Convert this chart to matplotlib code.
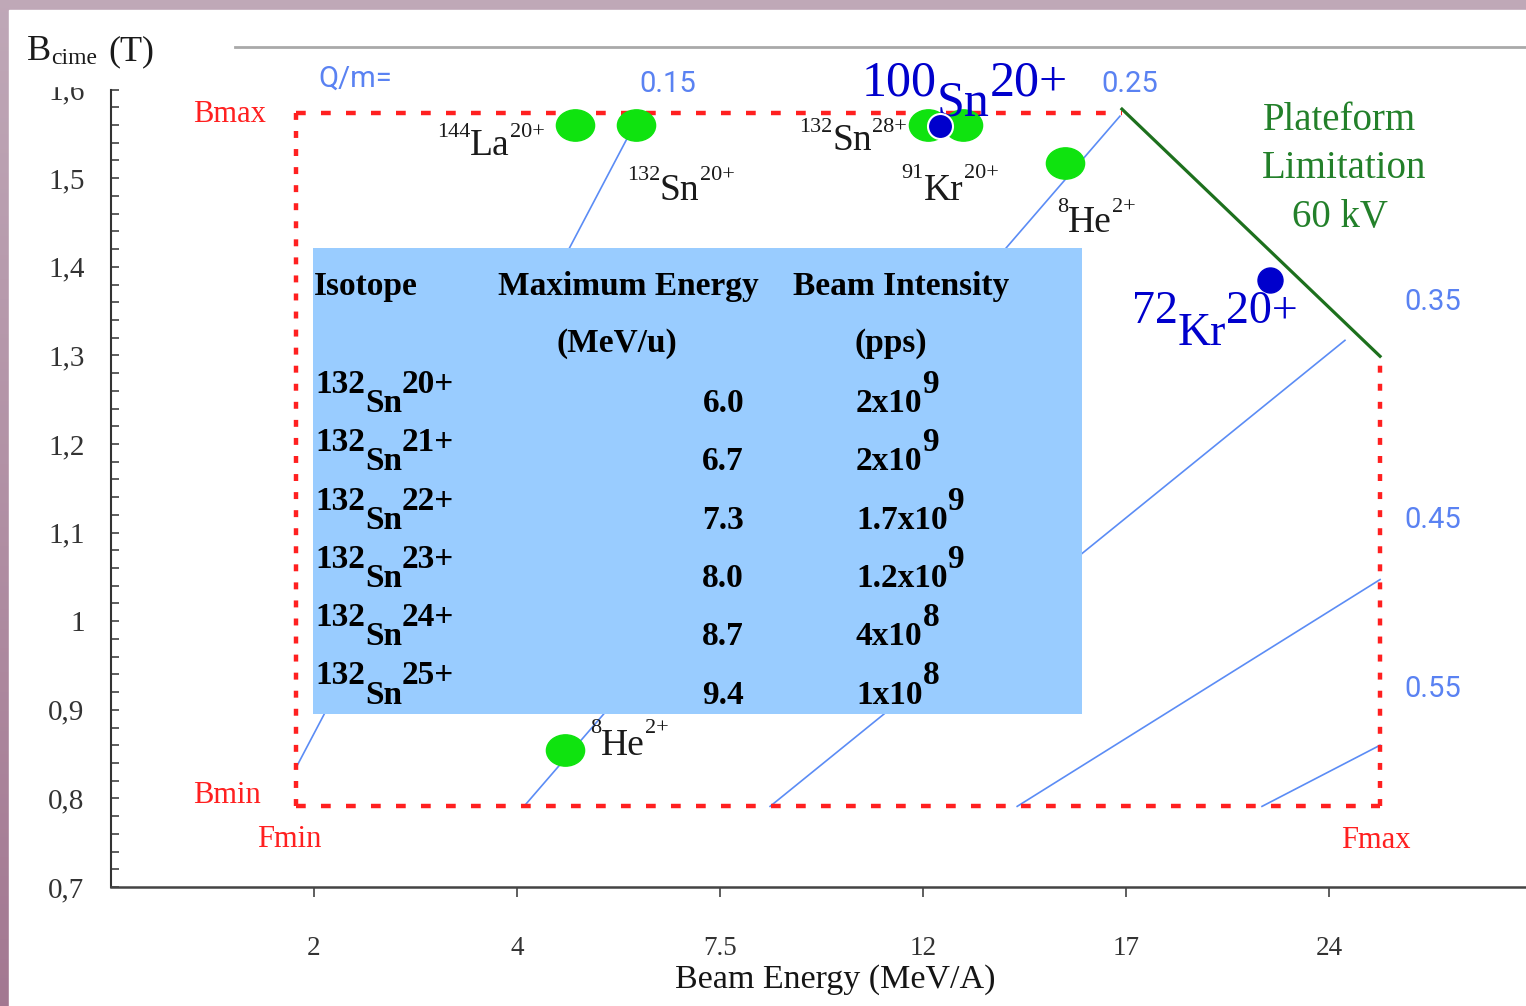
import numpy as np
import matplotlib
matplotlib.use('Agg')
import matplotlib.pyplot as plt
from matplotlib.patches import Rectangle
from matplotlib.path import Path

plt.rcParams['font.family'] = ['Liberation Serif', 'DejaVu Serif']
plt.rcParams['lines.scale_dashes'] = False

W, H = 1526, 1006

# x axis of the slide: tick energies are evenly spaced
tick_E = [2, 4, 7.5, 12, 17, 24]
tick_lab = ['2', '4', '7.5', '12', '17', '24']
knot_E = [0, 2, 4, 7.5, 12, 17, 24, 31]
knot_u = [0, 1, 2, 3, 4, 5, 6, 7]

y_ticks = [0.7, 0.8, 0.9, 1.0, 1.1, 1.2, 1.3, 1.4, 1.5, 1.6]
y_lab = ['0,7', '0,8', '0,9', '1', '1,1', '1,2', '1,3', '1,4', '1,5', '1,6']

# acceptance window
F_min, F_max = 1.82, 25.76
B_min, B_max = 0.791, 1.574

# platform limitation 60 kV
plat_E = [16.9, 25.76]
plat_B = [1.578, 1.299]

# Q/m lines
qm_lab = ['0.15', '0.25', '0.35', '0.45', '0.55']
qm_E0 = [1.82, 4.12, 8.61, 14.32, 21.69]
qm_B0 = [0.834, 0.791, 0.791, 0.791, 0.791]
qm_E1 = [6.02, 16.85, 24.55, 25.76, 25.76]
qm_B1 = [1.560, 1.570, 1.317, 1.047, 0.860]

# beams
green_E = [5.0, 6.05, 12.12, 12.99, 15.5, 4.83]
green_B = [1.560, 1.560, 1.560, 1.560, 1.517, 0.855]
blue_E = [12.42, 21.97]
blue_B = [1.559, 1.385]

# table
tab_charge = ['20+', '21+', '22+', '23+', '24+', '25+']
tab_energy = ['6.0', '6.7', '7.3', '8.0', '8.7', '9.4']
tab_int = ['2x10', '2x10', '1.7x10', '1.2x10', '4x10', '1x10']
tab_exp = ['9', '9', '9', '9', '8', '8']

fig = plt.figure(figsize=(W / 100, H / 100), dpi=100)

# slide background
bg = fig.add_axes([0, 0, 1, 1], zorder=-5)
g = np.linspace(0, 1, 256)[:, None, None]
c_top = np.array([0.75, 0.66, 0.72])
c_bot = np.array([0.64, 0.47, 0.57])
bg.imshow(c_top + (c_bot - c_top) * g, aspect='auto', extent=[0, 1, 0, 1])
bg.add_patch(Rectangle((9 / W, 0), 1, 1 - 10 / H, color='white'))
bg.set_xlim(0, 1)
bg.set_ylim(0, 1)
bg.set_axis_off()

ax = fig.add_axes([111 / W, 119 / H, (W - 111) / W, 797.4 / H])
ax.patch.set_alpha(0)


def fwd(e):
    return np.interp(e, knot_E, knot_u)


def inv(u):
    return np.interp(u, knot_u, knot_E)


ax.set_xscale('function', functions=(fwd, inv))


def ptext(x, y, s, **kw):
    kw.setdefault('zorder', 6)
    return ax.text(x / W, 1 - y / H, s, transform=fig.transFigure, **kw)


def chem(x, y, mass, sym, charge, size, small, rise, **kw):
    # x, y: left edge and baseline of the symbol in pixels
    t = ptext(x, y, sym, fontsize=size, ha='left', va='baseline', **kw)
    off = rise * 0.72 + 0.216 * (size - small)
    kw.setdefault('zorder', 6)
    ax.annotate(mass, xy=(0, 0), xycoords=t, xytext=(0, off),
                textcoords='offset points', ha='right', va='bottom',
                fontsize=small, **kw)
    ax.annotate(charge, xy=(1, 0), xycoords=t, xytext=(0, off),
                textcoords='offset points', ha='left', va='bottom',
                fontsize=small, **kw)
    return t


# Q/m lines
for e0, b0, e1, b1 in zip(qm_E0, qm_B0, qm_E1, qm_B1):
    ax.plot([e0, e1], [b0, b1], color='#5b8cf5', lw=1.2, zorder=2)

# acceptance window
red = '#ff2020'
kh = dict(color=red, lw=3.2, ls=(0, (7, 11)), dash_capstyle='butt', zorder=3)
kv = dict(color=red, lw=3.2, ls=(0, (5, 8)), dash_capstyle='butt', zorder=3)
ax.plot([F_min, plat_E[0]], [B_max, B_max], **kh)
ax.plot([F_min, F_max], [B_min, B_min], **kh)
ax.plot([F_min, F_min], [B_min, B_max], **kv)
ax.plot([F_max, F_max], [B_min, plat_B[1]], **kv)

ax.plot(plat_E, plat_B, color='#1d701d', lw=2.3, zorder=3)

circ = Path.unit_circle()
ell = Path(circ.vertices * [1, 0.82], circ.codes)
ax.plot(green_E, green_B, ls='none', marker=ell, ms=27.5, color='#0fe30f',
        mec='#0fe30f', zorder=4)
ax.plot(blue_E[:1], blue_B[:1], ls='none', marker='o', ms=18, mfc='#0000cc',
        mec='white', mew=1.5, zorder=8)
ax.plot(blue_E[1:], blue_B[1:], ls='none', marker='o', ms=18, mfc='#0000cc',
        mec='#0000cc', zorder=8)

# axes styling
ax.set_xlim(0, inv((W - 111) / 203))
ax.set_ylim(0.7, 1.6)
ax.set_xticks(tick_E, tick_lab)
ax.set_yticks(y_ticks, y_lab)
ax.set_yticks(np.arange(0.7, 1.6001, 0.02), minor=True)
ax.tick_params(axis='y', which='both', direction='in', length=5.8, width=1.1,
               color='#333333', pad=19, labelsize=21, labelcolor='#333333')
ax.tick_params(axis='x', direction='out', length=7, width=1.1, color='#333333',
               pad=28, labelsize=19.5, labelcolor='#333333')
ax.spines[['top', 'right']].set_visible(False)
ax.spines['left'].set_linewidth(1.5)
ax.spines['left'].set_color('#333333')
ax.spines['bottom'].set_linewidth(1.8)
ax.spines['bottom'].set_color('#444444')

# hide top of the "1,6" label like on the slide
ax.add_patch(Rectangle((30 / W, 1 - 86 / H), 75 / W, 20 / H, color='white',
                       transform=fig.transFigure, clip_on=False, zorder=20))
ax.plot([235 / W, 1], [1 - 46.5 / H] * 2, transform=fig.transFigure,
        color='#a9a9a9', lw=2, clip_on=False)

# axis titles
ptext(27, 60, 'B', fontsize=26, color='#1a1a1a')
ptext(51, 64, 'cime', fontsize=17, color='#1a1a1a')
ptext(108, 60, '(T)', fontsize=26, color='#1a1a1a')
ptext(835, 988, 'Beam Energy (MeV/A)', fontsize=24.5, ha='center',
      color='#151515')

# window labels
ptext(193, 122, 'Bmax', fontsize=22, color=red)
ptext(193, 803, 'Bmin', fontsize=22, color=red)
ptext(257, 847, 'Fmin', fontsize=22, color=red)
ptext(1341, 848, 'Fmax', fontsize=22, color=red)

# Q/m labels
qkw = dict(family='Roboto', fontsize=21, color='#5a82f2', ha='center')
ptext(318, 87, 'Q/m=', family='Roboto', fontsize=21, color='#5a82f2')
ptext(668, 92, qm_lab[0], **qkw)
ptext(1130, 92, qm_lab[1], **qkw)
ptext(1433, 310, qm_lab[2], **qkw)
ptext(1433, 528, qm_lab[3], **qkw)
ptext(1433, 697, qm_lab[4], **qkw)

# platform text
gkw = dict(fontsize=28, color='#23802a', ha='center')
ptext(1339, 130, 'Plateform', **gkw)
ptext(1344, 178, 'Limitation', **gkw)
ptext(1340, 227, '60 kV', **gkw)

# beam labels
dark = '#1a1a1a'
chem(470, 155, '144', 'La', '20+', 27, 16, 18, color=dark)
chem(660, 200, '132', 'Sn', '20+', 27, 16, 20, color=dark)
chem(832, 150, '132', 'Sn', '28+', 27, 16, 18, color=dark)
chem(924, 200, '91', 'Kr', '20+', 27, 16, 22, color=dark)
chem(1068, 232, '8', 'He', '2+', 27, 16, 20, color=dark)
chem(601, 755, '8', 'He', '2+', 27, 16, 22, color=dark)
chem(937, 115, '100', 'Sn', '20+', 36, 36, 20, color='#0000cc', zorder=7)
chem(1178, 345, '72', 'Kr', '20+', 33, 33, 22, color='#0000cc', zorder=7)

# table
ax.add_patch(Rectangle((313 / W, 1 - 714 / H), (1082 - 313) / W, (714 - 248) / H,
                       transform=fig.transFigure, facecolor='#99ccff',
                       edgecolor='none', zorder=5))
tkw = dict(fontsize=24, weight='bold', color='black')
ptext(314, 295, 'Isotope', **tkw)
ptext(628, 295, 'Maximum Energy', ha='center', **tkw)
ptext(901, 295, 'Beam Intensity', ha='center', **tkw)
ptext(617, 352, '(MeV/u)', ha='center', **tkw)
ptext(891, 352, '(pps)', ha='center', **tkw)
for i in range(len(tab_charge)):
    yb = 412 + 58.3 * i
    chem(365, yb, '132', 'Sn', tab_charge[i], 24, 24, 19, weight='bold',
         color='black')
    ptext(744, yb, tab_energy[i], ha='right', **tkw)
    t = ptext(856, yb, tab_int[i], **tkw)
    ax.annotate(tab_exp[i], xy=(1, 0), xycoords=t, xytext=(0, 13.7),
                textcoords='offset points', ha='left', va='bottom',
                zorder=6, **tkw)

fig.savefig('out.png', dpi=100)
